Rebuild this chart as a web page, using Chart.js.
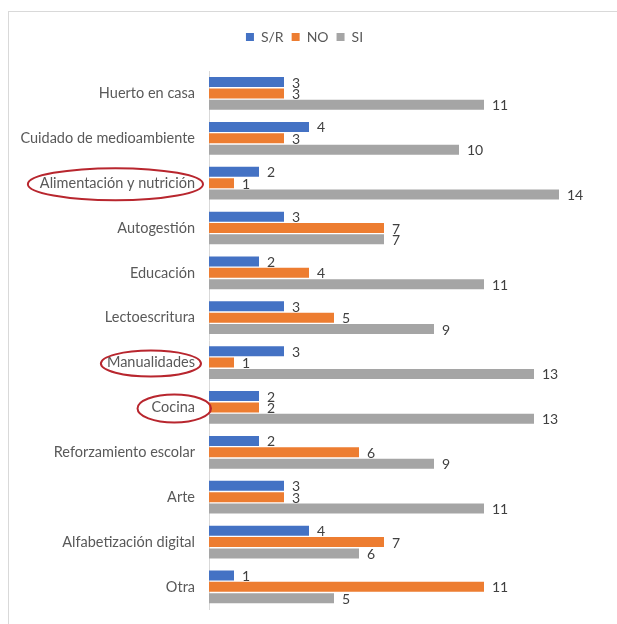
<!DOCTYPE html>
<html lang="es">
<head>
<meta charset="UTF-8">
<script src="https://cdn.jsdelivr.net/npm/chart.js"></script>
<title>Talleres</title>
<style>
    html, body { margin: 0; padding: 0; background: #fff; overflow: hidden; }
    .frame { position: absolute; left: 8px; top: 11px; width: 700px; height: 700px; border: 1px solid #d9d9d9; }
    .wrap { position: absolute; left: 0; top: 0; width: 617px; height: 624px; }
</style>
</head>
<body>
<div class="frame"></div>
<div class="wrap"><canvas id="chart"></canvas></div>

<script>
const categories = [
    'Huerto en casa', 'Cuidado de medioambiente', 'Alimentación y nutrición', 'Autogestión',
    'Educación', 'Lectoescritura', 'Manualidades', 'Cocina', 'Reforzamiento escolar',
    'Arte', 'Alfabetización digital', 'Otra'
];
const sinRespuesta = [3, 4, 2, 3, 2, 3, 3, 2, 2, 3, 4, 1];
const respuestaNo  = [3, 3, 1, 7, 4, 5, 1, 2, 6, 3, 7, 11];
const respuestaSi  = [11, 10, 14, 7, 11, 9, 13, 13, 9, 11, 6, 5];

// labels circled in red: [label, shift of centre, extra x radius, y radius]
const circled = [
    ['Alimentación y nutrición', -2, 10, 16],
    ['Manualidades', 0, 6, 13],
    ['Cocina', 1, 15, 14]
];

const fontFam = 'Lato, "Open Sans", sans-serif';
const tickPad = 6;

const valueLabels = {
    id: 'valueLabels',
    afterDatasetsDraw(chart) {
        const ctx = chart.ctx;
        ctx.save();
        ctx.font = '14px ' + fontFam;
        ctx.fillStyle = '#404040';
        ctx.textAlign = 'left';
        ctx.textBaseline = 'middle';
        chart.data.datasets.forEach((ds, i) => {
            chart.getDatasetMeta(i).data.forEach((bar, j) => {
                ctx.fillText(ds.data[j], bar.x + 8, bar.y + 1);
            });
        });
        ctx.restore();
    }
};

const redCircles = {
    id: 'redCircles',
    afterDraw(chart) {
        const ctx = chart.ctx;
        const y = chart.scales.y;
        ctx.save();
        ctx.font = '14.5px ' + fontFam;
        ctx.strokeStyle = '#b8262e';
        ctx.lineWidth = 2;
        circled.forEach(([name, dx, padX, ry]) => {
            const idx = categories.indexOf(name);
            const w = ctx.measureText(name).width;
            // tick text ends at axis - tick length - padding
            const right = y.right - tickPad - 8;
            const cx = right - w / 2 + dx;
            const cy = y.getPixelForValue(idx) + 1;
            ctx.beginPath();
            ctx.ellipse(cx, cy, w / 2 + padX, ry, 0, 0, Math.PI * 2);
            ctx.stroke();
        });
        ctx.restore();
    }
};

// extra room under the legend
const legendGap = {
    id: 'legendGap',
    afterInit(chart) {
        const lg = chart.legend;
        const fit = lg.fit;
        lg.fit = function () {
            fit.call(this);
            this.height += 17;
        };
    }
};

new Chart(document.getElementById('chart'), {
    type: 'bar',
    data: {
        labels: categories,
        datasets: [
            { label: 'S/R', data: sinRespuesta, backgroundColor: '#4472c4' },
            { label: 'NO', data: respuestaNo, backgroundColor: '#ed7d31' },
            { label: 'SI', data: respuestaSi, backgroundColor: '#a5a5a5' }
        ]
    },
    options: {
        indexAxis: 'y',
        responsive: true,
        maintainAspectRatio: false,
        animation: false,
        categoryPercentage: 0.76,
        barPercentage: 0.88,
        layout: { padding: { top: 22, right: 8, bottom: 3, left: 0 } },
        scales: {
            x: { display: false, min: 0, max: 16 },
            y: {
                grid: { display: false },
                border: { display: true, color: '#d9d9d9' },
                ticks: { color: '#595959', padding: tickPad, font: { family: fontFam, size: 14.5 } },
                afterFit(scale) { scale.width = 209; }
            }
        },
        plugins: {
            legend: {
                position: 'top',
                labels: {
                    color: '#595959',
                    boxWidth: 8,
                    boxHeight: 8,
                    padding: 8,
                    font: { family: fontFam, size: 14 }
                }
            },
            tooltip: { enabled: false }
        }
    },
    plugins: [valueLabels, redCircles, legendGap]
});
</script>
</body>
</html>
